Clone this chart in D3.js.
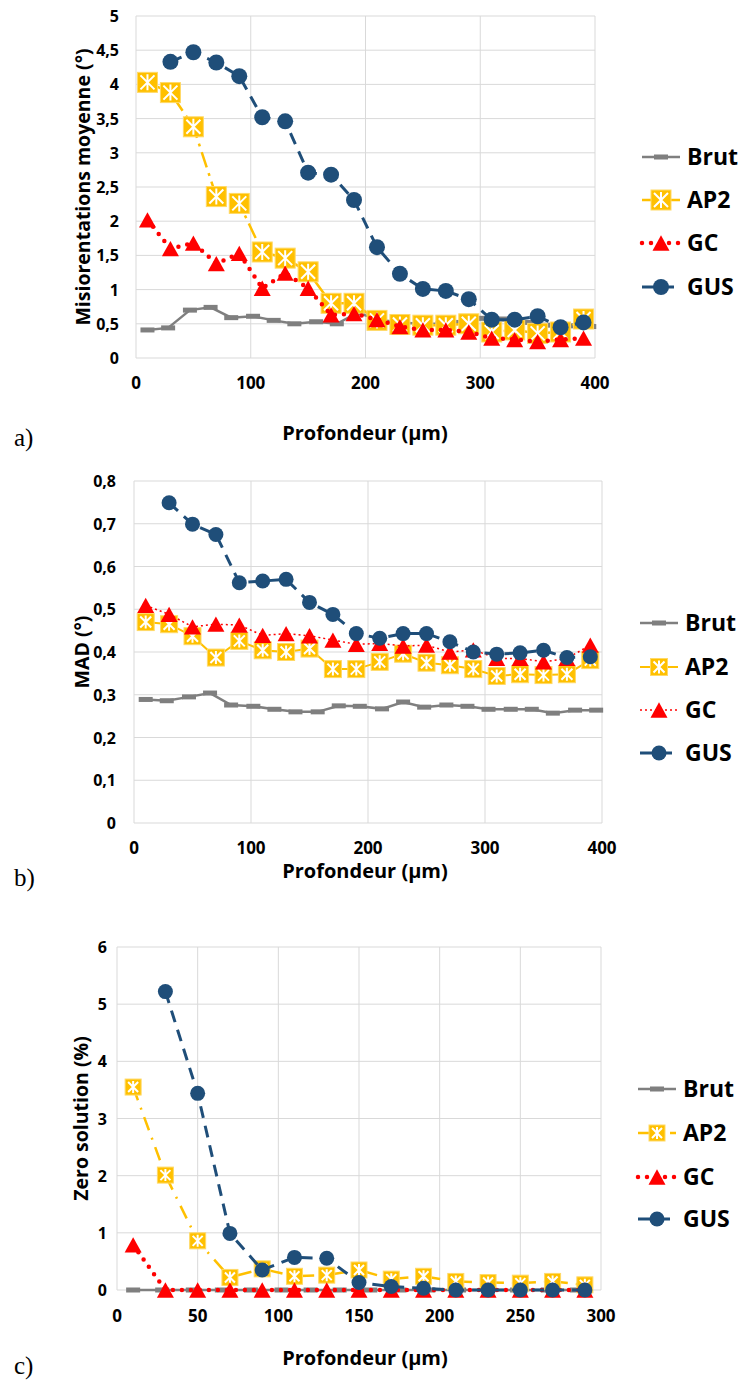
<!DOCTYPE html>
<html>
<head>
<meta charset="utf-8">
<script src="https://cdn.jsdelivr.net/npm/d3@7"></script>
<style>
  body { margin: 0; background: #fff; }
  svg text { font-family: "Open Sans", sans-serif; font-weight: bold; fill: #000; }
  svg text.plabel { font-family: "Liberation Serif", serif; font-weight: normal; }
</style>
</head>
<body>
<svg id="chart" width="739" height="1383"></svg>
<script>
// ---- data ----
const seriesNames = ["Brut", "AP2", "GC", "GUS"];

// a) mean misorientation
const brutDepth = [10, 28, 47, 65, 83, 102, 120, 138, 157, 175, 193, 212, 230, 248, 267, 285, 303, 322, 340, 358, 377, 395];
const depthA = [10, 30, 50, 70, 90, 110, 130, 150, 170, 190, 210, 230, 250, 270, 290, 310, 330, 350, 370, 390];
const depthGusA = [30, 50, 70, 90, 110, 130, 150, 170, 190, 210, 230, 250, 270, 290, 310, 330, 350, 370, 390];
const brutA = [0.41, 0.44, 0.70, 0.74, 0.59, 0.61, 0.55, 0.50, 0.53, 0.50, 0.66, 0.56, 0.52, 0.50, 0.50, 0.52, 0.58, 0.57, 0.52, 0.48, 0.47, 0.46];
const ap2A = [4.03, 3.88, 3.38, 2.36, 2.26, 1.55, 1.46, 1.26, 0.80, 0.80, 0.55, 0.49, 0.48, 0.48, 0.50, 0.38, 0.41, 0.36, 0.38, 0.57];
const gcA = [2.02, 1.60, 1.68, 1.38, 1.53, 1.02, 1.24, 1.02, 0.63, 0.65, 0.56, 0.46, 0.41, 0.41, 0.38, 0.29, 0.27, 0.24, 0.27, 0.29];
const gusA = [4.33, 4.47, 4.32, 4.12, 3.52, 3.46, 2.71, 2.68, 2.31, 1.62, 1.23, 1.01, 0.98, 0.86, 0.56, 0.56, 0.61, 0.45, 0.52];

// b) MAD
const brutB = [0.289, 0.286, 0.295, 0.304, 0.276, 0.273, 0.266, 0.260, 0.260, 0.274, 0.273, 0.267, 0.283, 0.271, 0.276, 0.273, 0.266, 0.266, 0.266, 0.257, 0.264, 0.264];
const ap2B = [0.470, 0.465, 0.437, 0.387, 0.426, 0.404, 0.400, 0.408, 0.360, 0.360, 0.377, 0.396, 0.375, 0.369, 0.360, 0.344, 0.348, 0.346, 0.348, 0.381];
const gcB = [0.509, 0.488, 0.459, 0.465, 0.463, 0.439, 0.443, 0.438, 0.428, 0.418, 0.420, 0.414, 0.416, 0.400, 0.405, 0.385, 0.385, 0.377, 0.385, 0.416];
const gusB = [0.749, 0.699, 0.675, 0.562, 0.566, 0.570, 0.516, 0.488, 0.443, 0.432, 0.443, 0.443, 0.424, 0.400, 0.395, 0.398, 0.404, 0.387, 0.389];

// c) zero solution
const brutDepthC = [10, 28, 47, 65, 83, 102, 120, 138, 157, 175, 193, 212, 230, 248, 267, 285];
const depthC = [10, 30, 50, 70, 90, 110, 130, 150, 170, 190, 210, 230, 250, 270, 290];
const depthGusC = [30, 50, 70, 90, 110, 130, 150, 170, 190, 210, 230, 250, 270, 290];
const brutC = [0, 0, 0, 0, 0, 0, 0, 0, 0, 0, 0, 0, 0, 0, 0, 0];
const ap2C = [3.55, 2.01, 0.86, 0.22, 0.37, 0.24, 0.26, 0.35, 0.19, 0.24, 0.15, 0.13, 0.12, 0.15, 0.09];
const gcC = [0.79, 0, 0, 0, 0, 0, 0, 0, 0, 0, 0, 0, 0, 0, 0];
const gusC = [5.22, 3.44, 0.99, 0.35, 0.57, 0.555, 0.13, 0.06, 0.03, 0, 0, 0, 0, 0];

const xTicksAB = [0, 100, 200, 300, 400];
const xTicksC = [0, 50, 100, 150, 200, 250, 300];
const yTicksA = [0, 0.5, 1, 1.5, 2, 2.5, 3, 3.5, 4, 4.5, 5];
const yTicksB = [0, 0.1, 0.2, 0.3, 0.4, 0.5, 0.6, 0.7, 0.8];
const yTicksC = [0, 1, 2, 3, 4, 5, 6];

// ---- styles ----
const colors = { Brut: "#7f7f7f", AP2: "#ffc000", GC: "#ff0000", GUS: "#1f4e79" };
const svg = d3.select("#chart");
const fmt = v => String(v).replace(".", ",");

function marker(g, name, size) {
  if (name === "Brut") {
    g.append("rect").attr("x", -7).attr("y", -2.5).attr("width", 14).attr("height", 5).attr("fill", colors.Brut);
  } else if (name === "AP2") {
    const h = size / 2;
    g.append("rect").attr("x", -h).attr("y", -h).attr("width", size).attr("height", size)
      .attr("fill", colors.AP2).attr("stroke", "#ffd966").attr("stroke-width", 1);
    const k = h - 3;
    g.append("path").attr("d", `M${-k},${-k}L${k},${k}M${k},${-k}L${-k},${k}M0,${-h + 2}L0,${h - 2}`)
      .attr("stroke", "#fff").attr("stroke-width", 2);
  } else if (name === "GC") {
    const w = size, hh = size * 0.9;
    g.append("path").attr("d", `M0,${-hh / 2}L${w / 2},${hh / 2}L${-w / 2},${hh / 2}Z`).attr("fill", colors.GC);
  } else {
    g.append("circle").attr("r", size / 2).attr("fill", colors.GUS);
  }
}

function drawPanel(cfg) {
  const x = d3.scaleLinear().domain(cfg.xDomain).range([cfg.left, cfg.right]);
  const y = d3.scaleLinear().domain(cfg.yDomain).range([cfg.bottom, cfg.top]);
  const g = svg.append("g");

  // grid
  g.selectAll(".hg").data(cfg.yTicks).join("line")
    .attr("x1", cfg.left).attr("x2", cfg.right).attr("y1", d => y(d)).attr("y2", d => y(d))
    .attr("stroke", "#d9d9d9").attr("stroke-width", 1);
  g.selectAll(".vg").data(cfg.xTicks).join("line")
    .attr("x1", d => x(d)).attr("x2", d => x(d)).attr("y1", cfg.top).attr("y2", cfg.bottom)
    .attr("stroke", "#d9d9d9").attr("stroke-width", 1);

  // tick labels
  g.selectAll(".xl").data(cfg.xTicks).join("text")
    .attr("x", d => x(d)).attr("y", cfg.bottom + cfg.xTickDy).attr("text-anchor", "middle")
    .attr("font-size", 17).text(d => d);
  g.selectAll(".yl").data(cfg.yTicks).join("text")
    .attr("x", cfg.left - cfg.yTickGap).attr("y", d => y(d) + 6).attr("text-anchor", "end")
    .attr("font-size", 16).text(fmt);

  // titles
  g.append("text").attr("x", 365).attr("y", cfg.xTitleY).attr("text-anchor", "middle")
    .attr("font-size", 20).text("Profondeur (µm)");
  g.append("text").attr("transform", `translate(${cfg.yTitleX},${(cfg.top + cfg.bottom) / 2}) rotate(-90)`)
    .attr("text-anchor", "middle").attr("font-size", 19.5).text(cfg.yTitle);
  g.append("text").attr("class", "plabel").attr("x", 14).attr("y", cfg.labelY)
    .attr("font-size", 25).text(cfg.label);

  // series
  const line = d3.line().x(d => x(d[0])).y(d => y(d[1]));
  cfg.series.forEach(s => {
    const pts = d3.zip(s.x, s.y);
    const st = cfg.styles[s.name];
    g.append("path").datum(pts).attr("d", line).attr("fill", "none")
      .attr("stroke", colors[s.name]).attr("stroke-width", st.w)
      .attr("stroke-dasharray", st.dash).attr("stroke-linecap", st.cap || "butt");
    pts.forEach(p => marker(g.append("g").attr("transform", `translate(${x(p[0])},${y(p[1])})`), s.name, st.m));
  });

  // legend
  seriesNames.forEach((n, i) => {
    const ly = cfg.legendY[i];
    const st = cfg.styles[n];
    g.append("line").attr("x1", cfg.legendX).attr("x2", cfg.legendX + 38).attr("y1", ly).attr("y2", ly)
      .attr("stroke", colors[n]).attr("stroke-width", st.w)
      .attr("stroke-dasharray", n === "AP2" && cfg.label === "a)" ? null : st.dash).attr("stroke-linecap", st.cap || "butt");
    marker(g.append("g").attr("transform", `translate(${cfg.legendX + 19},${ly})`), n, n === "Brut" ? 0 : st.m);
    g.append("text").attr("x", cfg.legendX + 45).attr("y", ly + 8).attr("font-size", 23).text(n);
  });
}

const stylesA = {
  Brut: { w: 2.5, dash: null, m: 0 },
  AP2: { w: 2.5, dash: "16 6 3 6", m: 20 },
  GC: { w: 4.5, dash: "0 9", cap: "round", m: 17 },
  GUS: { w: 3, dash: "12 8", m: 16 }
};
const stylesB = {
  Brut: { w: 2.5, dash: null, m: 0 },
  AP2: { w: 2, dash: null, m: 17 },
  GC: { w: 1.5, dash: "2 3", m: 17 },
  GUS: { w: 3, dash: "12 8", m: 15 }
};
const stylesC = {
  Brut: { w: 2.5, dash: null, m: 0 },
  AP2: { w: 2.5, dash: "14 8 2 8", m: 16 },
  GC: { w: 4.5, dash: "0 9", cap: "round", m: 17 },
  GUS: { w: 3, dash: "12 8", m: 15 }
};

drawPanel({
  label: "a)", labelY: 446, left: 136, right: 595, top: 16, bottom: 358, xTickDy: 31, yTickGap: 17,
  xDomain: [0, 400], yDomain: [0, 5], xTicks: xTicksAB, yTicks: yTicksA,
  xTitleY: 440, yTitleX: 90, yTitle: "Misiorentations moyenne (°)",
  legendX: 642, legendY: [157, 200, 243, 287], styles: stylesA,
  series: [
    { name: "Brut", x: brutDepth, y: brutA },
    { name: "AP2", x: depthA, y: ap2A },
    { name: "GC", x: depthA, y: gcA },
    { name: "GUS", x: depthGusA, y: gusA }
  ]
});

drawPanel({
  label: "b)", labelY: 886, left: 134, right: 602, top: 481, bottom: 823, xTickDy: 31, yTickGap: 18,
  xDomain: [0, 400], yDomain: [0, 0.8], xTicks: xTicksAB, yTicks: yTicksB,
  xTitleY: 878, yTitleX: 89, yTitle: "MAD (°)",
  legendX: 640, legendY: [623, 667, 710, 753], styles: stylesB,
  series: [
    { name: "Brut", x: brutDepth, y: brutB },
    { name: "AP2", x: depthA, y: ap2B },
    { name: "GC", x: depthA, y: gcB },
    { name: "GUS", x: depthGusA, y: gusB }
  ]
});

drawPanel({
  label: "c)", labelY: 1374, left: 117, right: 601, top: 947, bottom: 1290, xTickDy: 32, yTickGap: 10,
  xDomain: [0, 300], yDomain: [0, 6], xTicks: xTicksC, yTicks: yTicksC,
  xTitleY: 1365, yTitleX: 88, yTitle: "Zero solution (%)",
  legendX: 638, legendY: [1089, 1133, 1177, 1219], styles: stylesC,
  series: [
    { name: "Brut", x: brutDepthC, y: brutC },
    { name: "AP2", x: depthC, y: ap2C },
    { name: "GC", x: depthC, y: gcC },
    { name: "GUS", x: depthGusC, y: gusC }
  ]
});
</script>
</body>
</html>
